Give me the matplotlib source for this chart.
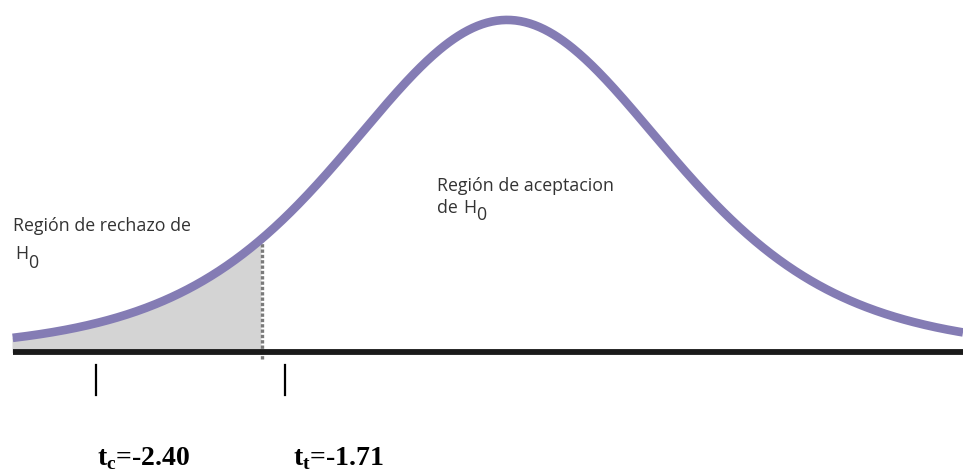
import numpy as np
import matplotlib.pyplot as plt

plt.rcParams['mathtext.fontset'] = 'custom'
plt.rcParams['mathtext.rm'] = 'Liberation Serif'
plt.rcParams['mathtext.bf'] = 'Liberation Serif:bold'

# datos del esquema
df = 6
x_start, x_end = -2.96, 2.73
t_corte = -1.47                 # linea punteada (limite de rechazo)
tick_pos = [-2.46, -1.33]
tick_labels = [r't$_{\mathbf{c}}$=-2.40', r't$_{\mathbf{t}}$=-1.71']
label_x = [-2.455, -1.282]


def t_pdf_rel(t, v):
    # densidad t relativa a su maximo
    return (1 + t**2 / v) ** (-(v + 1) / 2)


x = np.linspace(x_start, x_end, 600)
y = t_pdf_rel(x, df)

fig = plt.figure(figsize=(9.63, 4.71), dpi=100)
ax = fig.add_axes([0, 0, 1, 1])
ax.set_xlim(-3.036, 2.73)
ax.set_ylim(-0.358, 1.06)
ax.axis('off')

# region de rechazo sombreada
mask = x <= t_corte
ax.fill_between(x[mask], 0, y[mask], color='#d4d4d4', zorder=1)
ax.plot([t_corte, t_corte], [-0.02, t_pdf_rel(t_corte, df)], color='#7a7a7a',
        lw=2.4, ls=(0, (1, 0.6)), zorder=2)

ax.plot([x_start, 3.0], [0, 0], color='#1a1a1a', lw=4.2, solid_capstyle='butt', zorder=3)
ax.plot(x, y, color='#847cb4', lw=6.2, solid_capstyle='butt', zorder=4)

for tp in tick_pos:
    ax.plot([tp, tp], [-0.039, -0.13], color='black', lw=1.6)

for lx, lab in zip(label_x, tick_labels):
    ax.text(lx, -0.34, lab, fontsize=20, family='Liberation Serif', weight='bold',
            ha='left', va='baseline')

txt = dict(fontsize=12.8, family='Open Sans', color='#333333', ha='left', va='center')

ax.text(x_start, 0.38, 'Región de rechazo de', **txt)
ax.text(-2.946, 0.295, 'H', **txt)
ax.text(-2.868, 0.268, '0', **txt)

ax.text(-0.42, 0.50, 'Región de aceptacion', **txt)
ax.text(-0.42, 0.435, 'de', **txt)
ax.text(-0.264, 0.435, 'H', **txt)
ax.text(-0.186, 0.414, '0', **txt)

fig.savefig('out.png', dpi=100)
